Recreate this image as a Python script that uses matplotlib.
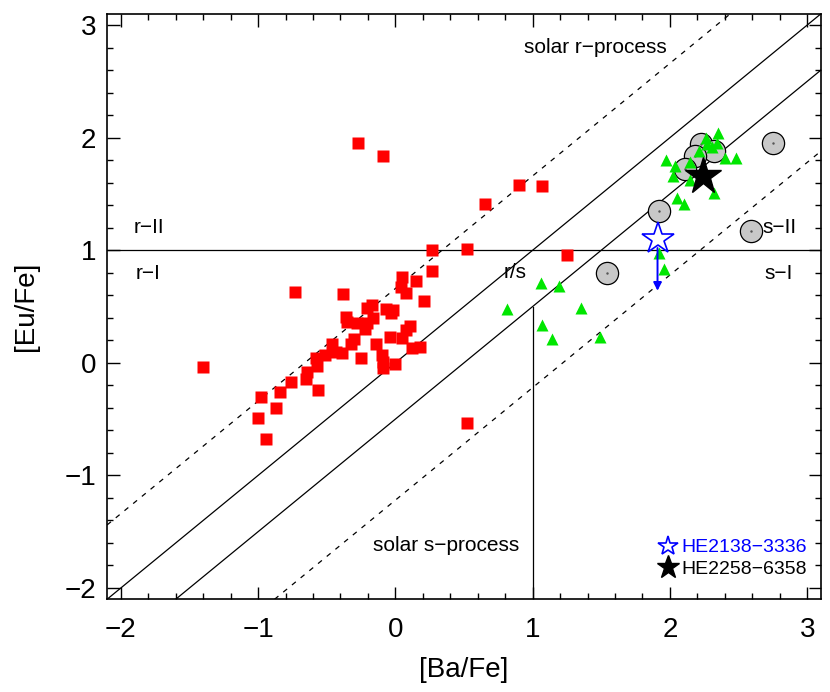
import matplotlib
matplotlib.use('Agg')
import matplotlib.pyplot as plt
from matplotlib.ticker import MultipleLocator

plt.rcParams['font.family'] = ['Liberation Sans', 'DejaVu Sans']

# r-process enhanced stars (red squares)
r_ba = [-0.27, -0.09, 0.65, 0.90, 1.07, 1.25, 0.27, 0.52, 0.27, -0.73, -0.38,
        0.05, 0.15, 0.04, 0.075, 0.21, -0.17, -0.21, -0.07, -0.015, -0.03,
        -0.36, -0.35, -0.16, -0.21, -0.28, -0.22, 0.11, 0.075, 0.05, -0.04,
        -0.14, 0.12, 0.18, -0.30, -0.32, -0.46, -0.43, -0.385, -0.25, -0.51,
        -0.58, -0.57, -0.10, -0.09, -0.09, -0.005, -0.64, -0.65, -0.76, -0.56,
        -0.84, -0.98, -0.87, -1.00, -0.94, -1.40, 0.52]
r_eu = [1.95, 1.84, 1.41, 1.58, 1.57, 0.96, 1.00, 1.01, 0.82, 0.63, 0.61,
        0.76, 0.73, 0.67, 0.62, 0.55, 0.51, 0.49, 0.48, 0.47, 0.44,
        0.41, 0.36, 0.40, 0.35, 0.35, 0.30, 0.33, 0.29, 0.22, 0.23,
        0.17, 0.13, 0.14, 0.21, 0.17, 0.17, 0.10, 0.09, 0.04, 0.07,
        0.04, -0.03, 0.07, 0.01, -0.05, -0.01, -0.08, -0.14, -0.17, -0.24,
        -0.26, -0.30, -0.40, -0.49, -0.68, -0.04, -0.53]

# s-process enhanced stars (green triangles)
s_ba = [2.26, 2.35, 2.31, 2.34, 2.21, 2.27, 2.40, 2.48, 1.97, 2.04, 2.15,
        2.02, 2.15, 2.32, 2.05, 2.10, 1.92, 1.96, 1.06, 1.19, 0.81, 1.35,
        1.07, 1.14, 1.49]
s_eu = [2.00, 2.04, 1.92, 1.95, 1.88, 1.94, 1.82, 1.82, 1.80, 1.75, 1.78,
        1.66, 1.62, 1.51, 1.46, 1.41, 0.98, 0.83, 0.71, 0.68, 0.48, 0.49,
        0.34, 0.21, 0.23]

# grey circles
c_ba = [2.75, 2.23, 2.32, 2.18, 2.11, 1.92, 2.59, 1.54]
c_eu = [1.95, 1.94, 1.88, 1.84, 1.72, 1.35, 1.17, 0.80]

# programme stars
he2138_ba, he2138_eu, he2138_lim = 1.91, 1.10, 0.64
he2258_ba, he2258_eu = 2.24, 1.66

# [Eu/Fe] = [Ba/Fe] + offset
solar_r = 0.66
rs_upper = 0.0
rs_lower = -0.5
solar_s = -1.22
r2_level = 1.0

fig = plt.figure(figsize=(8.3, 6.92), dpi=100)
ax = fig.add_axes([0.129, 0.134, 0.860, 0.846])

ax.axline((0, solar_r), slope=1, color='k', lw=0.9, ls=(0, (4, 5)), zorder=1)
ax.axline((0, solar_s), slope=1, color='k', lw=0.9, ls=(0, (4, 5)), zorder=1)
ax.axline((0, rs_upper), slope=1, color='k', lw=0.9, zorder=1)
ax.axline((0, rs_lower), slope=1, color='k', lw=0.9, zorder=1)
ax.axhline(r2_level, color='k', lw=0.9, zorder=1)
ax.plot([1, 1], [-2.1, 1 + rs_lower], color='k', lw=0.9, zorder=1)

ax.plot(r_ba, r_eu, 's', color='red', ms=8.5, mec='none', zorder=3)
ax.plot(c_ba, c_eu, 'o', color='#c8c8c8', mec='k', mew=0.9, ms=16, zorder=2)
ax.plot(c_ba, c_eu, '.', color='#555555', ms=1.5, zorder=2)
ax.plot(s_ba, s_eu, '^', color='#00e600', ms=8.5, mec='none', zorder=3)

ax.annotate('', xy=(he2138_ba, he2138_lim), xytext=(he2138_ba, he2138_eu - 0.08),
            arrowprops=dict(arrowstyle='-|>', color='blue', lw=1.4,
                            mutation_scale=12, shrinkA=0, shrinkB=0), zorder=4)
s1, = ax.plot([he2138_ba], [he2138_eu], '*', ms=24, mfc='white', mec='blue',
              mew=1.2, zorder=5, label='HE2138\u22123336')
s2, = ax.plot([he2258_ba], [he2258_eu], '*', ms=28, color='k', zorder=5,
              label='HE2258\u22126358')

ax.legend(handles=[s1, s2], loc='lower right', bbox_to_anchor=(1.011, 0.0),
          frameon=False, markerscale=0.62, fontsize=14, handlelength=0.9,
          handletextpad=0.25, labelspacing=0.2, borderaxespad=0.9,
          borderpad=0.2, labelcolor=['blue', 'black'])

tkw = dict(fontsize=15)
ax.text(1.46, 2.80, 'solar r\u2212process', ha='center', va='center', **tkw)
ax.text(0.37, -1.62, 'solar s\u2212process', ha='center', va='center', **tkw)
ax.text(-1.91, 1.20, 'r\u2212II', ha='left', va='center', **tkw)
ax.text(-1.89, 0.79, 'r\u2212I', ha='left', va='center', **tkw)
ax.text(0.87, 0.80, 'r/s', ha='center', va='center', **tkw)
ax.text(2.80, 1.20, 's\u2212II', ha='center', va='center', **tkw)
ax.text(2.79, 0.79, 's\u2212I', ha='center', va='center', **tkw)

ax.set_xlim(-2.1, 3.1)
ax.set_ylim(-2.1, 3.1)
ax.xaxis.set_major_locator(MultipleLocator(1))
ax.xaxis.set_minor_locator(MultipleLocator(0.2))
ax.yaxis.set_major_locator(MultipleLocator(1))
ax.yaxis.set_minor_locator(MultipleLocator(0.2))
ax.tick_params(which='both', direction='in', top=True, right=True, width=1)
ax.tick_params(which='major', length=9, labelsize=20)
ax.tick_params(axis='x', which='major', pad=13)
ax.tick_params(axis='y', which='major', pad=8)
ax.tick_params(which='minor', length=4.5)
ax.set_xticklabels([f'{v:g}'.replace('-', '\u2212') for v in ax.get_xticks()])
ax.set_yticklabels([f'{v:g}'.replace('-', '\u2212') for v in ax.get_yticks()])
for sp in ax.spines.values():
    sp.set_linewidth(1.2)

ax.set_xlabel('[Ba/Fe]', fontsize=20, labelpad=10)
ax.set_ylabel('[Eu/Fe]', fontsize=20, labelpad=18)

fig.savefig('out.png', dpi=100)
